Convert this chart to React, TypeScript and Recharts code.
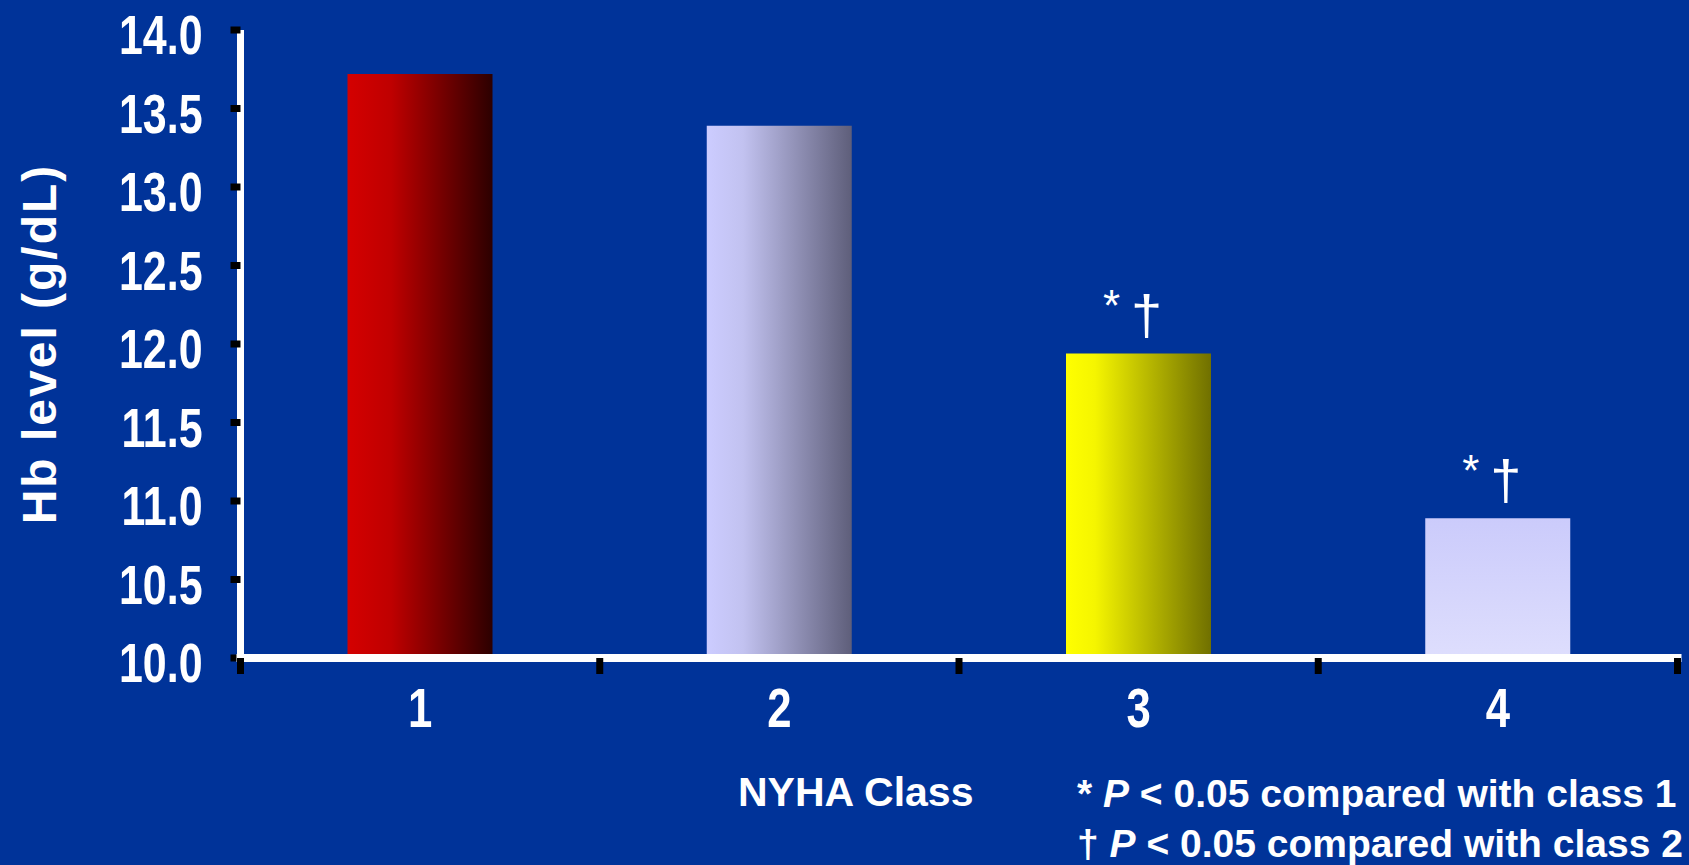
import { BarChart, Bar, XAxis, YAxis, Cell, LabelList, Label } from 'recharts'

const nyhaClasses = ['1', '2', '3', '4']
const hbLevels = [13.72, 13.39, 11.94, 10.89]
const significance = ['', '', '* †', '* †']
const yTicks = [10, 10.5, 11, 11.5, 12, 12.5, 13, 13.5, 14]
const barFills = ['url(#barRed)', 'url(#barLavender)', 'url(#barYellow)', 'url(#barPale)']

const data = nyhaClasses.map((cls, i) => ({ cls, hb: hbLevels[i], sig: significance[i] }))

// no narrow font installed, so Liberation Sans Bold gets squeezed horizontally
const FONT = "'Liberation Sans', Arial, sans-serif"
const BG = '#003399'
const SQUEEZE = 0.78

function YTick(props: any) {
  const { x, y, payload } = props
  return (
    <text
      transform={`translate(${x} ${y}) scale(${SQUEEZE} 1)`}
      y={24}
      textAnchor="end"
      fill="#fff"
      fontFamily={FONT}
      fontWeight="bold"
      fontSize={55}
    >
      {Number(payload.value).toFixed(1)}
    </text>
  )
}

function XTick(props: any) {
  const { x, y, payload, index, visibleTicksCount } = props
  const half = payload.offset || 0
  const isLast = index === visibleTicksCount - 1
  return (
    <g>
      {/* boundary tick marks between classes */}
      <line x1={x - half} x2={x - half} y1={y - 16} y2={y} stroke="#000" strokeWidth={7} />
      {isLast && <line x1={x + half} x2={x + half} y1={y - 16} y2={y} stroke="#000" strokeWidth={7} />}
      <text
        transform={`translate(${x} ${y}) scale(${SQUEEZE} 1)`}
        y={53}
        textAnchor="middle"
        fill="#fff"
        fontFamily={FONT}
        fontWeight="bold"
        fontSize={56}
      >
        {payload.value}
      </text>
    </g>
  )
}

function SigLabel(props: any) {
  const { x, y, width, value } = props
  if (!value) return null
  const cx = x + width / 2
  const [star, dagger] = String(value).split(' ')
  return (
    <g fill="#fff" fontFamily={FONT} textAnchor="middle">
      <text x={cx - 27} y={y - 32} fontSize={44}>{star}</text>
      <text x={cx + 8} y={y - 19} fontSize={56}>{dagger}</text>
    </g>
  )
}

function YTitle(props: any) {
  const { viewBox } = props
  const cx = 56
  const cy = viewBox.y + viewBox.height / 2
  return (
    <text
      x={cx}
      y={cy}
      transform={`rotate(-90, ${cx}, ${cy})`}
      textAnchor="middle"
      fill="#fff"
      fontFamily={FONT}
      fontWeight="bold"
      fontSize={48}
      letterSpacing={2}
    >
      Hb level (g/dL)
    </text>
  )
}

export default function App() {
  const textStyle = {
    position: 'absolute' as const,
    color: '#fff',
    fontFamily: FONT,
    fontWeight: 'bold' as const,
    whiteSpace: 'nowrap' as const,
  }

  return (
    <div style={{ position: 'fixed', left: 0, top: 0, width: 1689, height: 865, background: BG, overflow: 'hidden' }}>
      <svg width={0} height={0} style={{ position: 'absolute' }}>
        <defs>
          <linearGradient id="barRed" x1="0" y1="0" x2="1" y2="0">
            <stop offset="0%" stopColor="#d40000" />
            <stop offset="30%" stopColor="#bf0000" />
            <stop offset="100%" stopColor="#2c0000" />
          </linearGradient>
          <linearGradient id="barLavender" x1="0" y1="0" x2="1" y2="0">
            <stop offset="0%" stopColor="#ccccff" />
            <stop offset="25%" stopColor="#c2c2f0" />
            <stop offset="100%" stopColor="#5e5e7a" />
          </linearGradient>
          <linearGradient id="barYellow" x1="0" y1="0" x2="1" y2="0">
            <stop offset="0%" stopColor="#ffff00" />
            <stop offset="20%" stopColor="#f5f500" />
            <stop offset="100%" stopColor="#707000" />
          </linearGradient>
          <linearGradient id="barPale" x1="0" y1="0" x2="0" y2="1">
            <stop offset="0%" stopColor="#cbcbfb" />
            <stop offset="100%" stopColor="#dedefd" />
          </linearGradient>
        </defs>
      </svg>

      <BarChart
        width={1689}
        height={865}
        data={data}
        margin={{ top: 30, right: 11.5, bottom: 127, left: 0.5 }}
      >
        <YAxis
          domain={[10, 14]}
          ticks={yTicks}
          interval={0}
          width={240}
          axisLine={{ stroke: '#fff', strokeWidth: 7 }}
          tickLine={{ stroke: '#000', strokeWidth: 7 }}
          tickSize={10}
          tickMargin={28}
          tick={<YTick />}
          allowDataOverflow
        >
          <Label content={<YTitle />} />
        </YAxis>
        <XAxis
          dataKey="cls"
          height={80}
          axisLine={{ stroke: '#fff', strokeWidth: 8, strokeLinecap: 'square' }}
          tickLine={false}
          tickSize={16}
          tickMargin={0}
          tick={<XTick />}
          interval={0}
        />
        <Bar dataKey="hb" barSize={145} isAnimationActive={false}>
          {data.map((d, i) => (
            <Cell key={d.cls} fill={barFills[i]} />
          ))}
          <LabelList dataKey="sig" content={<SigLabel />} />
        </Bar>
      </BarChart>

      <div style={{ ...textStyle, left: 738, top: 772, fontSize: 41, lineHeight: '41px' }}>NYHA Class</div>
      <div style={{ ...textStyle, left: 1077, top: 774, fontSize: 39, lineHeight: '39px' }}>
        * <i>P</i> &lt; 0.05 compared with class 1
      </div>
      <div style={{ ...textStyle, left: 1077, top: 824, fontSize: 39, lineHeight: '39px' }}>
        † <i>P</i> &lt; 0.05 compared with class 2
      </div>
    </div>
  )
}
